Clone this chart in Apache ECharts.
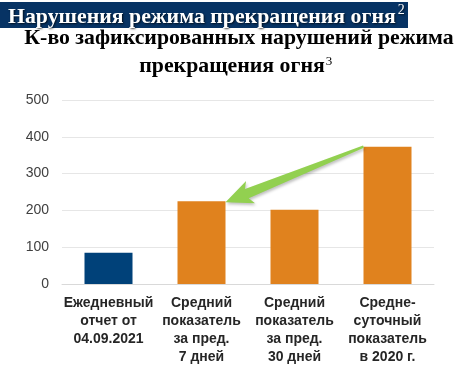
<!DOCTYPE html>
<html><head><meta charset="utf-8">
<script src="https://cdn.jsdelivr.net/npm/echarts@6/dist/echarts.min.js"></script>
<style>html,body{margin:0;padding:0;background:#fff}#c{width:457px;height:367px}</style>
</head><body><div id="c"></div>
<script>
const categories = ['Ежедневный\nотчет от\n04.09.2021', 'Средний\nпоказатель\nза пред.\n7 дней', 'Средний\nпоказатель\nза пред.\n30 дней', 'Средне-\nсуточный\nпоказатель\nв 2020 г.'];
const values = [85, 225, 202, 373];
const barColors = ['#004179', '#E0821E', '#E0821E', '#E0821E'];
const yTicks = [0, 100, 200, 300, 400, 500];
const headerText = 'Нарушения режима прекращения огня';
const headerNote = '2';
const titleLine1 = 'К-во зафиксированных нарушений режима';
const titleLine2 = 'прекращения огня';
const titleNote = '3';
const BAR_W = 48;
const SERIF = 'Liberation Serif';

const chart = echarts.init(document.getElementById('c'), null, {renderer: 'canvas'});
chart.setOption({
  animation: false,
  grid: {left: 62, right: 23, top: 100, bottom: 83},
  xAxis: {
    type: 'category', data: categories,
    axisTick: {show: false},
    axisLine: {lineStyle: {color: '#d9d9d9'}},
    axisLabel: {interval: 0, fontFamily: 'Liberation Sans', fontWeight: 'bold', fontSize: 14, color: '#262626', lineHeight: 18, margin: 10}
  },
  yAxis: {
    type: 'value', min: yTicks[0], max: yTicks[yTicks.length - 1], interval: 100,
    axisLine: {show: false}, axisTick: {show: false},
    splitLine: {lineStyle: {color: '#e6e6e6'}},
    axisLabel: {fontFamily: 'Liberation Sans', fontSize: 14, color: '#404040', margin: 13}
  },
  series: [{
    type: 'bar', barWidth: BAR_W,
    data: values.map((v, i) => ({value: v, itemStyle: {color: barColors[i]}}))
  }]
});

const ctx = document.createElement('canvas').getContext('2d');
const measure = (size, bold, t) => { ctx.font = (bold ? 'bold ' : '') + size + 'px "' + SERIF + '"'; return ctx.measureText(t).width; };
const hSize = Math.round(23 * 387 / measure(23, true, headerText) * 10) / 10;
const tSize = Math.round(21 * 430 / measure(21, true, titleLine1) * 10) / 10;
const hw = measure(hSize, true, headerText);
const t2w = measure(tSize, true, titleLine2);
const MID = 0.34;
const txt = (x, baseline, text, size, bold, fill, align, extra) => ({
  type: 'text', z: 10,
  style: Object.assign({x: x, y: baseline - MID * size, text: text, fontFamily: SERIF, fontSize: size,
    fontWeight: bold ? 'bold' : 'normal', fill: fill, align: align, verticalAlign: 'middle'}, extra || {})
});
const shadow = {textShadowColor: 'rgba(0,0,0,0.7)', textShadowBlur: 2, textShadowOffsetX: 1, textShadowOffsetY: 1};
const l2center = 232;

const graphics = [
  {type: 'rect', left: 0, top: 2, z: -1, shape: {width: 408, height: 26}, style: {fill: '#073364'}},
  txt(8, 25, headerText, hSize, true, '#fff', 'left', shadow),
  txt(8 + hw + 2, 15, headerNote, 14, false, '#fff', 'left', shadow),
  txt(239, 46, titleLine1, tSize, true, '#000', 'center'),
  txt(l2center, 74, titleLine2, tSize, true, '#000', 'center'),
  txt(l2center + t2w / 2 + 1, 66, titleNote, 13, false, '#000', 'left')
];

const tipC = chart.convertToPixel({seriesIndex: 0}, [1, values[1]]);
const tailC = chart.convertToPixel({seriesIndex: 0}, [3, values[3]]);
const T = [tipC[0] + BAR_W / 2, tipC[1] + 1];
const P = [tailC[0] - BAR_W / 2, tailC[1]];
const dx = P[0] - T[0], dy = P[1] - T[1], L = Math.hypot(dx, dy);
const u = [dx / L, dy / L], n = [-u[1], u[0]];
const pt = (base, a, b) => [base[0] + u[0] * a + n[0] * b, base[1] + u[1] * a + n[1] * b];
const arrowPts = [T, pt(T, 27, 12), pt(T, 23, 5), pt(P, 0, 1.2), pt(P, 0, -1.2), pt(T, 23, -5), pt(T, 27, -12)];
graphics.push({
  type: 'polygon', z: 100, shape: {points: arrowPts},
  style: {fill: '#92D050', shadowColor: 'rgba(0,0,0,0.25)', shadowBlur: 3, shadowOffsetX: 1, shadowOffsetY: 2}
});
chart.setOption({graphic: graphics});
</script></body></html>
